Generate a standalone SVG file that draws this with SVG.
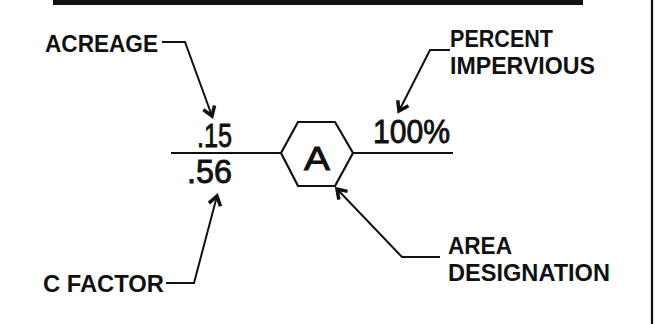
<svg xmlns="http://www.w3.org/2000/svg" width="657" height="324" viewBox="0 0 657 324">
<defs>
<style>
.lbl{font-family:"Liberation Sans",Arial,sans-serif;font-weight:bold;font-size:24px;fill:#111}
.num{font-family:"Liberation Sans",Arial,sans-serif;font-size:33px;fill:#111;stroke:#111;stroke-width:0.9}
.ln{fill:none;stroke:#111;stroke-width:2.2;stroke-linejoin:miter}
.ld{fill:none;stroke:#111;stroke-width:2;marker-end:url(#chev)}
</style>
<marker id="chev" markerUnits="userSpaceOnUse" markerWidth="20" markerHeight="20" refX="0" refY="0" viewBox="-12 -10 14 20" orient="auto">
<path d="M-9,-6 L0,0 L-9,6" fill="none" stroke="#111" stroke-width="3.5"/>
</marker>
</defs>
<rect x="0" y="0" width="657" height="324" fill="#fff"/>
<rect x="53" y="0" width="530" height="5" fill="#111"/>
<line x1="652" y1="0" x2="652" y2="324" stroke="#111" stroke-width="2.2"/>

<g id="fraction">
<line class="ln" x1="171" y1="153" x2="281" y2="153"/>
<text class="num" x="197" y="147" textLength="35" lengthAdjust="spacingAndGlyphs">.15</text>
<text class="num" x="187" y="183" textLength="45" lengthAdjust="spacingAndGlyphs">.56</text>
</g>
<g id="area-hex">
<polygon class="ln" points="281,153 298,122 335,122 353,153 335,186 298,186"/>
<text class="num" x="304" y="170" font-size="39" textLength="26" lengthAdjust="spacingAndGlyphs">A</text>
</g>
<g id="impervious">
<line class="ln" x1="353" y1="153" x2="453" y2="153"/>
<text class="num" x="373" y="143" textLength="77" lengthAdjust="spacingAndGlyphs">100%</text>
</g>
<g id="acreage-label">
<text class="lbl" x="45" y="52" textLength="113" lengthAdjust="spacingAndGlyphs">ACREAGE</text>
</g>
<g id="percent-label">
<text class="lbl" x="450" y="47" textLength="103" lengthAdjust="spacingAndGlyphs">PERCENT</text>
<text class="lbl" x="450" y="74" textLength="145" lengthAdjust="spacingAndGlyphs">IMPERVIOUS</text>
</g>
<g id="cfactor-label">
<text class="lbl" x="43" y="292" textLength="121" lengthAdjust="spacingAndGlyphs">C  FACTOR</text>
</g>
<g id="area-label">
<text class="lbl" x="448" y="254" textLength="64" lengthAdjust="spacingAndGlyphs">AREA</text>
<text class="lbl" x="448" y="281" textLength="162" lengthAdjust="spacingAndGlyphs">DESIGNATION</text>
</g>
<g id="connectors">
<path class="ld" d="M162,42 H185 L212,116"/>
<path class="ld" d="M450,50 H430 L399,111"/>
<path class="ld" d="M166,283 H194 L217,196"/>
<path class="ld" d="M440,257 H402 L337,189"/>
</g>
</svg>
